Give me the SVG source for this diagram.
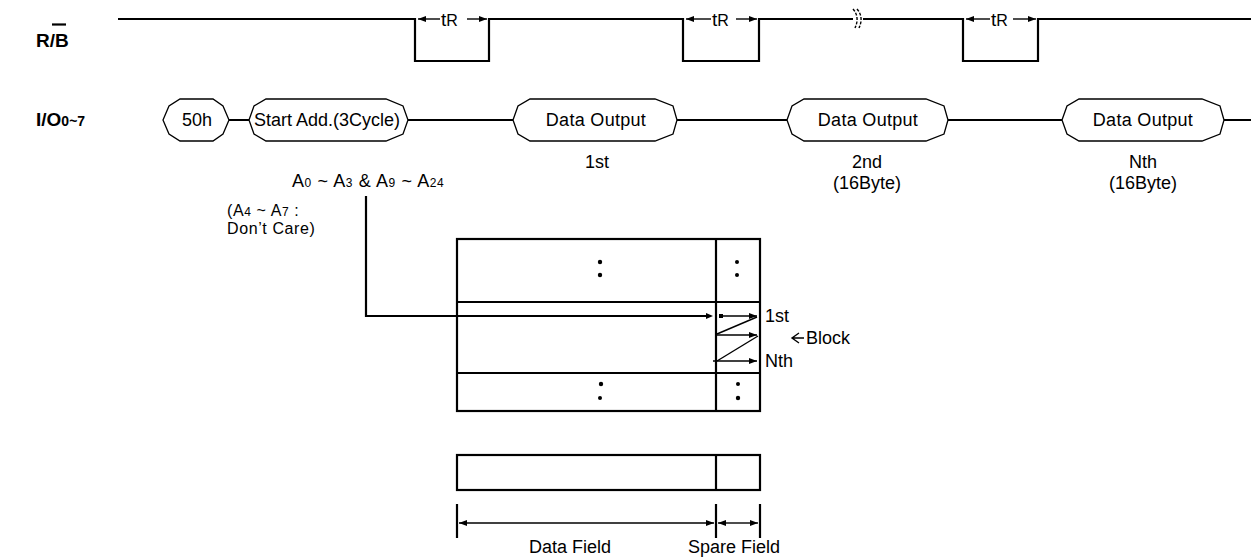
<svg xmlns="http://www.w3.org/2000/svg" width="1251" height="560" viewBox="0 0 1251 560">
<defs>
<style>
.ln{stroke:#000;stroke-width:2.2;fill:none}
.th{stroke:#000;stroke-width:1.4;fill:none}
.sh{stroke:#000;stroke-width:1.3;fill:#fff}
text{font-family:"Liberation Sans",Arial,sans-serif;fill:#000}
.t{font-size:18px}
.c{text-anchor:middle}
.lbl{font-size:19px;font-weight:bold}
.sub{font-size:12px}
</style>
<marker id="ar" viewBox="0 0 8 6" refX="8" refY="3" markerWidth="8" markerHeight="6" markerUnits="userSpaceOnUse" orient="auto-start-reverse">
<path d="M0,0 L8,3 L0,6 Z" fill="#000"/>
</marker>
</defs>
<rect width="1251" height="560" fill="#fff"/>

<g id="labels">
<text class="lbl" x="36" y="47">R/B</text>
<line x1="52" y1="24.5" x2="66" y2="24.5" stroke="#000" stroke-width="2.2"/>
<text class="lbl" x="36" y="126">I/O<tspan font-size="14">0~7</tspan></text>
</g>

<g id="connectors">
<path class="ln" d="M118,19 H415 V61 H489 V19 H683 V61 H759 V19 H853 M863,19 H963 V61 H1038 V19 H1251"/>
<path class="th" d="M853,9 Q860,17 855,28 M857,9 Q864,17 859,28" stroke-dasharray="3,1.5"/>
<line class="th" x1="440" y1="19" x2="418" y2="19" stroke-width="1.8" marker-end="url(#ar)"/>
<line class="th" x1="467" y1="19" x2="487" y2="19" stroke-width="1.8" marker-end="url(#ar)"/>
<line class="th" x1="711" y1="19" x2="686" y2="19" stroke-width="1.8" marker-end="url(#ar)"/>
<line class="th" x1="736" y1="19" x2="757" y2="19" stroke-width="1.8" marker-end="url(#ar)"/>
<line class="th" x1="990" y1="19" x2="966" y2="19" stroke-width="1.8" marker-end="url(#ar)"/>
<line class="th" x1="1013" y1="19" x2="1036" y2="19" stroke-width="1.8" marker-end="url(#ar)"/>
<path class="ln" d="M229,120 H249 M408,120 H513 M677,120 H787 M948,120 H1062 M1224,120 H1251"/>
<path class="ln" d="M366,196 V316 H706"/>
<path d="M706,313 L713,316 L706,319 Z"/>
<rect x="719" y="314" width="4" height="4"/>
</g>

<g id="tR-labels">
<text x="441" y="26" font-size="19">t<tspan font-size="16">R</tspan></text>
<text x="712" y="26" font-size="19">t<tspan font-size="16">R</tspan></text>
<text x="991" y="26" font-size="19">t<tspan font-size="16">R</tspan></text>
</g>

<g id="n50h">
<path class="sh" d="M163,120 L169,106 L180,99 L213,99 L223,106 L229,120 L223,134 L213,141 L180,141 L169,134 Z"/>
<text class="t c" x="197" y="126">50h</text>
</g>
<g id="nStart">
<path class="sh" d="M249,120 L254,106 L266,99 L386,99 L403,106 L408,120 L403,134 L386,141 L266,141 L254,134 Z"/>
<text class="t c" x="327" y="126">Start Add.(3Cycle)</text>
</g>
<g id="nOut1">
<path class="sh" d="M513,120 L518,106 L530,99 L655,99 L673,106 L677,120 L673,134 L655,141 L530,141 L518,134 Z"/>
<text class="t c" x="596" y="126" letter-spacing="0.3">Data Output</text>
<text class="t c" x="597" y="168">1st</text>
</g>
<g id="nOut2">
<path class="sh" d="M787,120 L792,106 L804,99 L926,99 L944,106 L948,120 L944,134 L926,141 L804,141 L792,134 Z"/>
<text class="t c" x="868" y="126" letter-spacing="0.3">Data Output</text>
<text class="t c" x="867" y="168">2nd</text>
<text class="t c" x="867" y="189">(16Byte)</text>
</g>
<g id="nOutN">
<path class="sh" d="M1062,120 L1067,106 L1079,99 L1202,99 L1220,106 L1224,120 L1220,134 L1202,141 L1079,141 L1067,134 Z"/>
<text class="t c" x="1143" y="126" letter-spacing="0.3">Data Output</text>
<text class="t c" x="1143" y="168">Nth</text>
<text class="t c" x="1143" y="189">(16Byte)</text>
</g>

<g id="address">
<text class="t" x="292" y="187" letter-spacing="0.6">A<tspan class="sub">0</tspan> ~ A<tspan class="sub">3</tspan> &amp; A<tspan class="sub">9</tspan> ~ A<tspan class="sub">24</tspan></text>
<text x="227" y="216" font-size="16" letter-spacing="0.6">(A<tspan class="sub">4</tspan> ~ A<tspan class="sub">7</tspan> :</text>
<text x="227" y="234" font-size="16" letter-spacing="0.6">Don’t Care)</text>
</g>

<g id="blockArray">
<rect class="ln" x="457" y="239" width="303" height="172"/>
<path class="ln" d="M716,239 V411 M457,302 H760 M457,373 H760"/>
<g fill="#000">
<circle cx="600" cy="262" r="2.2"/><circle cx="600" cy="275" r="2.2"/>
<circle cx="737" cy="262" r="2"/><circle cx="737" cy="275" r="2"/>
<circle cx="601" cy="384" r="2.2"/><circle cx="600" cy="398" r="2"/>
<circle cx="738" cy="384" r="2"/><circle cx="738" cy="398" r="2.2"/>
</g>
</g>

<g id="blockPointer">
<line class="th" x1="723" y1="316" x2="757" y2="316" stroke-width="2" marker-end="url(#ar)"/>
<line class="th" x1="717" y1="335" x2="757" y2="335" stroke-width="2" marker-end="url(#ar)"/>
<line class="th" x1="713" y1="361" x2="757" y2="361" stroke-width="2" marker-end="url(#ar)"/>
<line class="th" x1="717" y1="334" x2="757" y2="317"/>
<line class="th" x1="717" y1="361" x2="758" y2="336" stroke-width="2"/>
<text class="t" x="765" y="322">1st</text>
<text class="t" x="765" y="367">Nth</text>
<path class="th" d="M804,338 H792 M799,333 L792,338 L799,343" stroke-width="2.4"/>
<text class="t" x="806" y="344">Block</text>
</g>

<g id="fieldBar">
<rect class="ln" x="457" y="455" width="303" height="35"/>
<line class="ln" x1="716" y1="455" x2="716" y2="490"/>
</g>

<g id="dimensions">
<path class="ln" d="M457,504 V538 M716,504 V538 M760,504 V538"/>
<line class="th" x1="586" y1="523" x2="459" y2="523" stroke-width="2" marker-end="url(#ar)"/>
<line class="th" x1="586" y1="523" x2="714" y2="523" stroke-width="2" marker-end="url(#ar)"/>
<line class="th" x1="738" y1="523" x2="718" y2="523" stroke-width="2" marker-end="url(#ar)"/>
<line class="th" x1="738" y1="523" x2="758" y2="523" stroke-width="2" marker-end="url(#ar)"/>
<text class="t c" x="570" y="553">Data Field</text>
<text class="t c" x="734" y="553">Spare Field</text>
</g>
</svg>
